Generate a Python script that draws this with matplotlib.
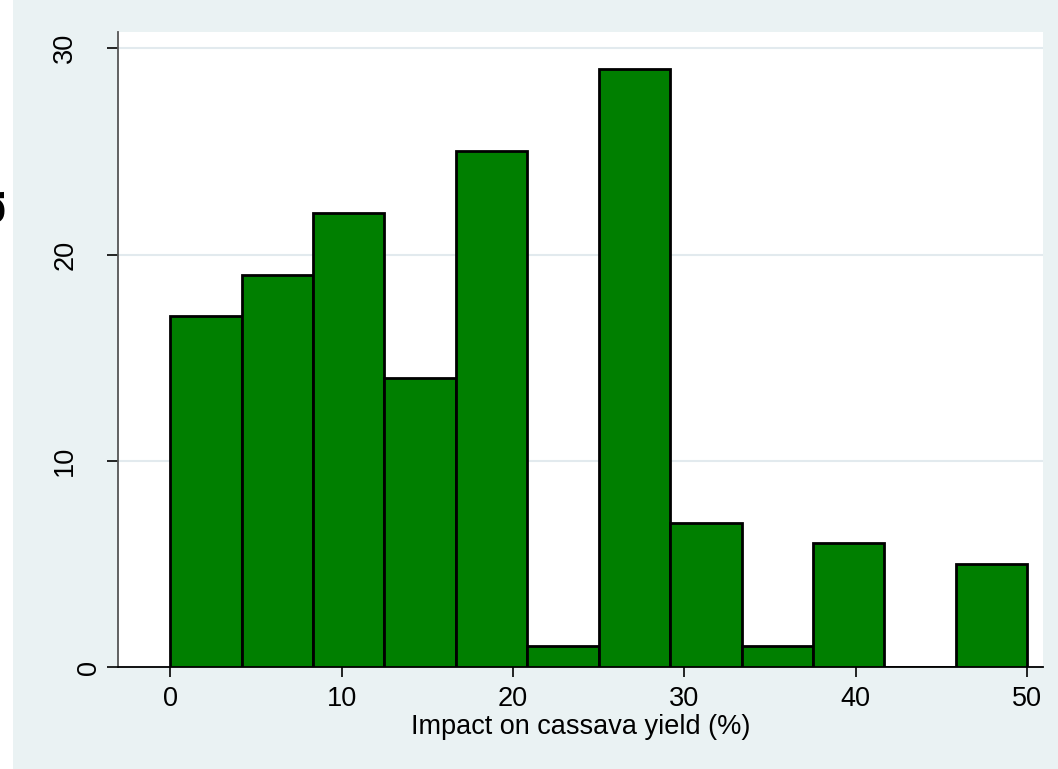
import numpy as np
import matplotlib
matplotlib.use("Agg")
import matplotlib.pyplot as plt
import matplotlib.transforms as mtransforms
from matplotlib.patches import Rectangle

# histogram bins (12 equal bins from 0 to 50) and counts
bin_edges = np.linspace(0, 50, 13)
counts = [17, 19, 22, 14, 25, 1, 29, 7, 1, 6, 0, 5]
x_ticks = [0, 10, 20, 30, 40, 50]
y_ticks = [0, 10, 20, 30]

plt.rcParams["font.family"] = ["Liberation Sans", "DejaVu Sans"]

bg = "#EAF2F3"
fig = plt.figure(figsize=(10.58, 7.69), dpi=100, facecolor=bg)
# thin white strip at the left edge of the picture
fig.patches.append(Rectangle((0, 0), 13 / 1058, 1, transform=fig.transFigure,
                             facecolor="white", edgecolor="none", zorder=-1))

ax = fig.add_axes([0.1115, 0.1326, 0.874, 0.826])
ax.set_facecolor("white")

widths = np.diff(bin_edges)
ax.bar(bin_edges[:-1], counts, width=widths, align="edge",
       color="#007F00", edgecolor="black", linewidth=2, zorder=3)

ax.set_xlim(-3.04, 50.9)
ax.set_ylim(0, 30.8)
ax.set_xticks(x_ticks)
ax.set_yticks(y_ticks)
ax.grid(axis="y", color="#E2EAEE", linewidth=1.5, zorder=0)

for s in ["top", "right"]:
    ax.spines[s].set_visible(False)
ax.spines["left"].set_color("#555555")
ax.spines["bottom"].set_color("black")
ax.spines["bottom"].set_linewidth(1.3)
ax.spines["left"].set_linewidth(1.3)

ax.tick_params(axis="x", length=7.5, width=1.2, labelsize=19.5, pad=6.5)
ax.tick_params(axis="y", length=8, width=1.2, labelsize=19.5, pad=3.3)
for lbl in ax.get_yticklabels():
    lbl.set_rotation(90)
    lbl.set_va("center")
    # two-digit labels sit further left than the single "0"
    if len(lbl.get_text()) > 1:
        lbl.set_transform(lbl.get_transform() +
                          mtransforms.ScaledTranslation(-0.24, 0, fig.dpi_scale_trans))

ax.set_xlabel("Impact on cassava yield (%)", fontsize=19.5, labelpad=1)

# fragment of a text cut off at the left edge of the picture
fig.text(15 / 1058, 0.737, "u", rotation=90, fontsize=53,
         ha="right", va="center", zorder=5)

fig.savefig("out.png", dpi=100, facecolor=bg)
